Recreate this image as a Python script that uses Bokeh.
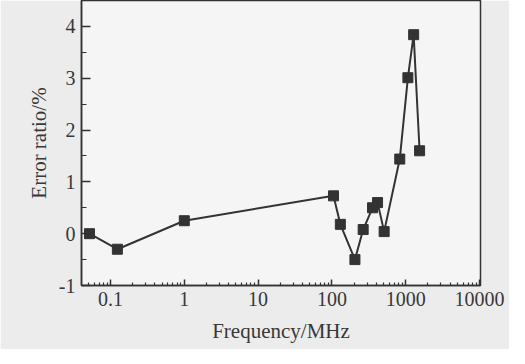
from bokeh.plotting import figure
from bokeh.models import FixedTicker, Range1d
from bokeh.embed import file_html
from bokeh.resources import INLINE

# Data
freq_mhz = [0.052, 0.124, 1.0, 105, 130, 205, 265, 355, 415, 510, 830, 1070, 1280, 1540]
error_pct = [0.0, -0.30, 0.25, 0.73, 0.18, -0.50, 0.08, 0.50, 0.60, 0.04, 1.44, 3.01, 3.84, 1.60]

x_major = [0.1, 1, 10, 100, 1000, 10000]
x_labels = ["0.1", "1", "10", "100", "1000", "10000"]
y_major = [-1, 0, 1, 2, 3, 4]
y_labels = ["-1", "0", "1", "2", "3", "4"]
y_minor = [-0.5, 0.5, 1.5, 2.5, 3.5, 4.5]

x_minor = [k * 10.0 ** d for d in range(-2, 4) for k in range(2, 10)]

FONT = "Liberation Serif"
INK = "#333333"
TXT = "#383838"

p = figure(width=509, height=348, x_axis_type="log",
           output_backend="svg", toolbar_location=None,
           x_range=Range1d(0.0405, 10300), y_range=Range1d(-1, 4.5),
           min_border_left=81, min_border_right=29, min_border_top=0,
           min_border_bottom=64)
p.frame_width = 399
p.frame_height = 285

p.background_fill_color = "#f5f5f5"
p.border_fill_color = "#ececec"
p.outline_line_color = INK
p.outline_line_width = 1.5
p.grid.visible = False

p.line(freq_mhz, error_pct, line_color=INK, line_width=2)
p.scatter(freq_mhz, error_pct, marker="square", size=10,
          fill_color=INK, line_color=INK)

xa = p.xaxis[0]
xa.ticker = FixedTicker(ticks=x_major, minor_ticks=x_minor)
xa.major_label_overrides = {v: l for v, l in zip(x_major, x_labels)}
xa.axis_label = "Frequency/MHz"

ya = p.yaxis[0]
ya.ticker = FixedTicker(ticks=y_major, minor_ticks=y_minor)
ya.major_label_overrides = {v: l for v, l in zip(y_major, y_labels)}
ya.axis_label = "Error ratio/%"

for ax in (xa, ya):
    ax.axis_line_color = INK
    ax.axis_line_width = 1.5
    ax.major_tick_line_color = INK
    ax.minor_tick_line_color = INK
    ax.major_tick_line_width = 1.5
    ax.minor_tick_line_width = 1.2
    ax.major_tick_out = 0
    ax.minor_tick_out = 0
    ax.major_label_text_font = FONT
    ax.major_label_text_font_size = "20px"
    ax.major_label_text_color = TXT
    ax.axis_label_text_font = FONT
    ax.axis_label_text_font_size = "21px"
    ax.axis_label_text_font_style = "normal"
    ax.axis_label_text_color = TXT

xa.major_tick_in = 6
xa.minor_tick_in = 3
ya.major_tick_in = 9
ya.minor_tick_in = 5
xa.major_label_standoff = 6
ya.major_label_standoff = 6
xa.axis_label_standoff = 10
ya.axis_label_standoff = 5

open("out.html", "w").write(file_html(p, INLINE))
